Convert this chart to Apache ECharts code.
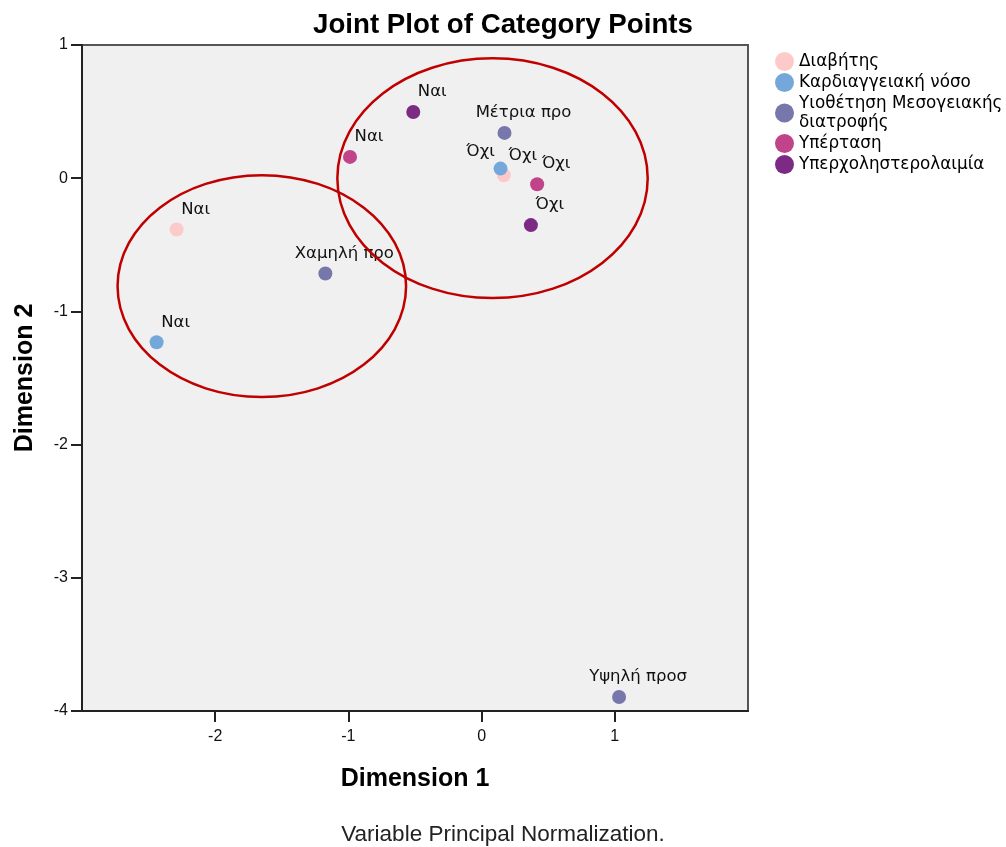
<!DOCTYPE html>
<html>
<head>
<meta charset="utf-8">
<title>Joint Plot of Category Points</title>
<script src="https://cdn.jsdelivr.net/npm/echarts@6/dist/echarts.min.js"></script>
<style>
  html, body { margin: 0; padding: 0; background: #fff; }
  #chart { width: 1006px; height: 847px; }
</style>
</head>
<body>
<div id="chart"></div>
<script>
// Variables and their category labels
const variableNames = [
  'Διαβήτης',
  'Καρδιαγγειακή νόσο',
  'Υιοθέτηση Μεσογειακής διατροφής',
  'Υπέρταση',
  'Υπερχοληστερολαιμία'
];
const categoryLabels = [
  ['Ναι', 'Όχι'],
  ['Ναι', 'Όχι'],
  ['Χαμηλή προ', 'Μέτρια προ', 'Υψηλή προσ'],
  ['Ναι', 'Όχι'],
  ['Ναι', 'Όχι']
];
// Category point coordinates
const dimension1 = [
  [-2.29, 0.167],
  [-2.44, 0.142],
  [-1.173, 0.172, 1.032],
  [-0.988, 0.417],
  [-0.513, 0.370]
];
const dimension2 = [
  [-0.385, 0.022],
  [-1.232, 0.072],
  [-0.715, 0.340, -3.895],
  [0.160, -0.045],
  [0.497, -0.352]
];
// Highlighted groups: centre x, centre y, radius x, radius y (in dimension units)
const groupEllipses = [
  [0.082, 0.0, 1.165, 0.90],
  [-1.65, -0.81, 1.083, 0.833]
];
const xTicks = [-2, -1, 0, 1];
const yTicks = [1, 0, -1, -2, -3, -4];

const colors = ['#FDCACA', '#74A8DB', '#7777AC', '#C1438A', '#7D2A84'];
const legendNames = [
  'Διαβήτης',
  'Καρδιαγγειακή νόσο',
  'Υιοθέτηση Μεσογειακής\nδιατροφής',
  'Υπέρταση',
  'Υπερχοληστερολαιμία'
];

const FONT = '"Liberation Sans", Arial, sans-serif';
const WIDE_FONT = '"DejaVu Sans", sans-serif';
const SYM = 14;
// label anchor relative to the symbol's top-left corner
const defaultLabelPos = [SYM / 2 + 19, SYM / 2 - 20];
const labelPosOverride = { '1-1': [SYM / 2 - 20, SYM / 2 - 17] };

const pointSeries = variableNames.map((name, i) => ({
  type: 'scatter',
  name: legendNames[i],
  symbol: 'circle',
  symbolSize: SYM,
  itemStyle: { color: colors[i], opacity: 1 },
  z: 3 + i,
  data: dimension1[i].map((x, j) => ({
    value: [x, dimension2[i][j]],
    name: categoryLabels[i][j],
    label: {
      show: true,
      formatter: categoryLabels[i][j],
      position: labelPosOverride[i + '-' + j] || defaultLabelPos,
      align: 'center',
      verticalAlign: 'middle',
      color: '#111',
      fontFamily: WIDE_FONT,
      fontSize: 16.5
    }
  }))
}));

const ellipseSeries = {
  type: 'custom',
  name: 'groups',
  z: 10,
  silent: true,
  data: groupEllipses,
  renderItem: (params, api) => {
    const c = api.coord([api.value(0), api.value(1)]);
    const s = api.size([api.value(2), api.value(3)]);
    return {
      type: 'ellipse',
      shape: { cx: c[0], cy: c[1], rx: s[0], ry: s[1] },
      style: { fill: 'none', stroke: '#C00000', lineWidth: 2.5 }
    };
  }
};

const chart = echarts.init(document.getElementById('chart'), null, { renderer: 'canvas' });
chart.setOption({
  animation: false,
  backgroundColor: '#ffffff',
  title: [
    {
      text: 'Joint Plot of Category Points',
      left: 498, top: 6, textAlign: 'center',
      textStyle: { fontFamily: FONT, fontSize: 27.7, fontWeight: 'bold', color: '#000' }
    },
    {
      text: 'Variable Principal Normalization.',
      left: 498, top: 818, textAlign: 'center',
      textStyle: { fontFamily: FONT, fontSize: 22.5, fontWeight: 'normal', color: '#222' }
    }
  ],
  legend: {
    left: 775, top: 52,
    orient: 'vertical',
    padding: 0,
    itemGap: 2,
    itemWidth: 19, itemHeight: 19,
    icon: 'circle',
    data: legendNames,
    textStyle: { fontFamily: WIDE_FONT, fontSize: 16.8, lineHeight: 19, color: '#000' }
  },
  grid: {
    left: 82, top: 45, right: 258, bottom: 136,
    outerBoundsMode: 'none',
    show: true, backgroundColor: '#F0F0F0', borderColor: '#555', borderWidth: 2
  },
  xAxis: {
    type: 'value', min: -3, max: 2, interval: 1,
    name: 'Dimension 1', nameLocation: 'middle', nameGap: 56,
    nameTextStyle: { fontFamily: FONT, fontSize: 25, fontWeight: 'bold', color: '#000' },
    axisLine: { show: true, onZero: false, lineStyle: { color: '#222', width: 2 } },
    axisTick: { show: true, length: 11, customValues: xTicks, lineStyle: { color: '#222', width: 2 } },
    axisLabel: { customValues: xTicks, margin: 18, fontFamily: FONT, fontSize: 16, color: '#111' },
    splitLine: { show: false }
  },
  yAxis: {
    type: 'value', min: -4, max: 1, interval: 1,
    name: 'Dimension 2', nameLocation: 'middle', nameGap: 44, nameRotate: 90,
    nameTextStyle: { fontFamily: FONT, fontSize: 25, fontWeight: 'bold', color: '#000' },
    axisLine: { show: true, onZero: false, lineStyle: { color: '#222', width: 2 } },
    axisTick: { show: true, length: 11, customValues: yTicks, lineStyle: { color: '#222', width: 2 } },
    axisLabel: { customValues: yTicks, margin: 14, fontFamily: FONT, fontSize: 16, color: '#111' },
    splitLine: { show: false }
  },
  series: [...pointSeries, ellipseSeries]
});
</script>
</body>
</html>
